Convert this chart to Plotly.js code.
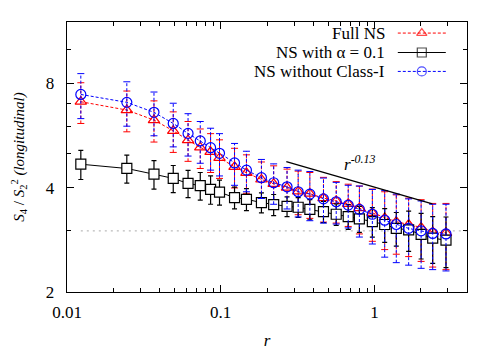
<!DOCTYPE html>
<html>
<head>
<meta charset="utf-8">
<script src="https://cdn.plot.ly/plotly-3.0.1.min.js"></script>
<style>
  body { margin: 0; background: #fff; }
  #grafico { width: 500px; height: 350px; }
</style>
</head>
<body>
<div id="grafico"></div>
<script>
// separations r (same for the three runs)
let r = [0.0123, 0.0245, 0.0368, 0.0491, 0.0613, 0.0736, 0.0859, 0.0982, 0.123, 0.147,
         0.184, 0.221, 0.270, 0.319, 0.380, 0.466, 0.564, 0.675, 0.798, 0.969,
         1.166, 1.387, 1.669, 2.012, 2.393, 2.920];

// Full NS
let fullNS    = [7.07, 6.69, 6.26, 5.83, 5.48, 5.22, 5.07, 4.87, 4.59, 4.41,
                 4.22, 4.10, 4.00, 3.90, 3.84, 3.73, 3.66, 3.59, 3.49, 3.38,
                 3.27, 3.19, 3.13, 3.07, 2.98, 2.96];
let fullNSErr = [0.95, 0.90, 0.85, 0.78, 0.72, 0.68, 0.65, 0.62, 0.60, 0.56,
                 0.52, 0.52, 0.52, 0.56, 0.58, 0.55, 0.50, 0.50, 0.55, 0.58,
                 0.62, 0.62, 0.60, 0.62, 0.62, 0.64];

// NS with alpha = 0.1
let alpha01    = [4.67, 4.54, 4.37, 4.25, 4.11, 4.05, 3.95, 3.88, 3.74, 3.70,
                  3.62, 3.57, 3.53, 3.51, 3.46, 3.41, 3.35, 3.30, 3.25, 3.19,
                  3.13, 3.05, 3.02, 2.93, 2.86, 2.82];
let alpha01Err = [0.45, 0.42, 0.41, 0.38, 0.37, 0.37, 0.37, 0.32, 0.27, 0.27,
                  0.24, 0.25, 0.23, 0.23, 0.23, 0.24, 0.24, 0.27, 0.28, 0.31,
                  0.35, 0.34, 0.40, 0.44, 0.44, 0.47];

// NS without Class-I
let noClass1    = [7.42, 7.04, 6.59, 6.12, 5.73, 5.45, 5.21, 5.02, 4.71, 4.49,
                   4.27, 4.13, 4.02, 3.89, 3.83, 3.71, 3.64, 3.56, 3.46, 3.35,
                   3.22, 3.13, 3.05, 3.00, 2.95, 2.94];
let noClass1Err = [1.10, 1.03, 0.95, 0.88, 0.80, 0.75, 0.72, 0.70, 0.65, 0.60,
                   0.55, 0.55, 0.55, 0.60, 0.62, 0.55, 0.50, 0.50, 0.58, 0.60,
                   0.70, 0.70, 0.66, 0.66, 0.63, 0.64];

// gaussian value and the r^-0.13 guide
let gaussX = [0.0123, 4.0], gaussY = [3, 3];
let fitX = [0.267, 2.38], fitY = [4.75, 3.59];

let serif = '"Liberation Serif", "Times New Roman", serif';

// dashed vertical error bars (plotly error bars can't be dashed)
function barras(x, y, e, color){
    let xs = [], ys = [], cx = [], cy = [];
    for (let i = 0; i < x.length; i++){
        xs.push(x[i], x[i], null);
        ys.push(y[i] - e[i], y[i] + e[i], null);
        cx.push(x[i], x[i]);
        cy.push(y[i] - e[i], y[i] + e[i]);
    }
    return [
        { x: xs, y: ys, mode: 'lines', line: { color: color, width: 1, dash: '3px,2px' },
          showlegend: false, hoverinfo: 'skip' },
        { x: cx, y: cy, mode: 'markers', showlegend: false, hoverinfo: 'skip',
          marker: { symbol: 'line-ew-open', size: 5, color: color, line: { color: color, width: 1 } } }
    ];
}

let gauss = {
    x: gaussX, y: gaussY, mode: 'lines', showlegend: false,
    line: { color: '#aaaaaa', width: 1, dash: '2px,4px' }
};

let fit = {
    x: fitX, y: fitY, mode: 'lines', showlegend: false,
    line: { color: 'black', width: 1.3 }
};

let full = {
    x: r, y: fullNS, mode: 'lines+markers', name: 'Full NS', showlegend: false,
    line: { color: 'red', width: 1, dash: '3px,2px' },
    marker: { symbol: 'triangle-up-open', size: 10, color: 'red', line: { width: 1.2 } }
};

let alpha = {
    x: r, y: alpha01, mode: 'lines+markers', name: 'NS with α = 0.1', showlegend: false,
    line: { color: 'black', width: 1 },
    marker: { symbol: 'square', size: 10, color: 'white', line: { color: 'black', width: 1.2 } },
    error_y: { type: 'data', array: alpha01Err, visible: true, color: 'black', thickness: 1.2, width: 2.5 }
};

let sinClase = {
    x: r, y: noClass1, mode: 'lines+markers', name: 'NS without Class-I', showlegend: false,
    line: { color: 'blue', width: 1, dash: '3px,2px' },
    marker: { symbol: 'circle-open', size: 10, color: 'blue', line: { width: 1.2 } }
};

// legend drawn by hand: text on the left, key on the right (gnuplot style)
let leyenda = [
    { texto: 'Full NS', color: 'red', dash: '3px,2px', simbolo: 'triangle-up-open' },
    { texto: 'NS with α = 0.1', color: 'black', dash: 'solid', simbolo: 'square-open' },
    { texto: 'NS without Class-I', color: 'blue', dash: '3px,2px', simbolo: 'circle-open' }
];
let filas = [0.959, 0.887, 0.817];

let claves = leyenda.map((l, i) => ({
    x: [0.827, 0.887, 0.947], y: [filas[i], filas[i], filas[i]],
    xaxis: 'x2', yaxis: 'y2', mode: 'lines+markers', showlegend: false, hoverinfo: 'skip',
    line: { color: l.color, width: 1, dash: l.dash },
    marker: { symbol: l.simbolo, size: [0, 9, 0], color: l.color, line: { width: 1.2 } }
}));

let textos = leyenda.map((l, i) => ({
    text: l.texto, xref: 'paper', yref: 'paper', x: 0.80, y: filas[i],
    xanchor: 'right', yanchor: 'middle', showarrow: false,
    font: { family: serif, size: 17, color: 'black' }
}));

let data = [gauss]
    .concat(barras(r, fullNS, fullNSErr, 'red'), [full, alpha])
    .concat(barras(r, noClass1, noClass1Err, 'blue'), [sinClase, fit])
    .concat(claves);

let layout = {
    width: 500, height: 350,
    margin: { l: 67, r: 33, t: 22, b: 58 },
    paper_bgcolor: 'white', plot_bgcolor: 'white',
    font: { family: serif, size: 17, color: 'black' },
    showlegend: false,
    xaxis: {
        type: 'log', range: [-2, Math.log10(4)],
        tickvals: [0.01, 0.1, 1], ticktext: ['0.01', '0.1', '1'],
        tickfont: { family: serif, size: 17, color: 'black' },
        ticks: 'inside', ticklen: 7, tickwidth: 1, tickcolor: 'black',
        minor: { tickvals: [0.02, 0.03, 0.04, 0.05, 0.06, 0.07, 0.08, 0.09,
                            0.2, 0.3, 0.4, 0.5, 0.6, 0.7, 0.8, 0.9, 2, 3],
                 ticks: 'inside', ticklen: 4, tickcolor: 'black' },
        showline: true, linecolor: 'black', linewidth: 1.3, mirror: 'allticks',
        showgrid: false, zeroline: false, ticklabelstandoff: 4,
        title: { text: '<i>r</i>', standoff: 13, font: { family: serif, size: 17 } }
    },
    yaxis: {
        type: 'log', range: [Math.log10(2), Math.log10(12)],
        tickvals: [2, 4, 8], ticktext: ['2', '4', '8'],
        tickfont: { family: serif, size: 17, color: 'black' },
        ticks: 'inside', ticklen: 7, tickwidth: 1, tickcolor: 'black',
        minor: { tickvals: [3, 5, 6, 7, 10], ticks: 'inside', ticklen: 4, tickcolor: 'black' },
        showline: true, linecolor: 'black', linewidth: 1.3, mirror: 'allticks',
        showgrid: false, zeroline: false, ticklabelstandoff: 8,
        title: { text: '<i>S</i><sub>4</sub> / <i>S</i><sub>2</sub><sup>2</sup> <i>(longitudinal)</i>',
                 standoff: 17, font: { family: serif, size: 15 } }
    },
    xaxis2: { overlaying: 'x', range: [0, 1], visible: false, fixedrange: true },
    yaxis2: { overlaying: 'y', range: [0, 1], visible: false, fixedrange: true },
    annotations: textos.concat([{
        text: '<i>r<sup>-0.13</sup></i>', x: Math.log10(0.8), y: Math.log10(4.71),
        xref: 'x', yref: 'y', showarrow: false, xanchor: 'center', yanchor: 'middle',
        font: { family: serif, size: 17, color: 'black' }
    }])
};

let config = { displayModeBar: false, staticPlot: true };

Plotly.newPlot('grafico', data, layout, config);
</script>
</body>
</html>
